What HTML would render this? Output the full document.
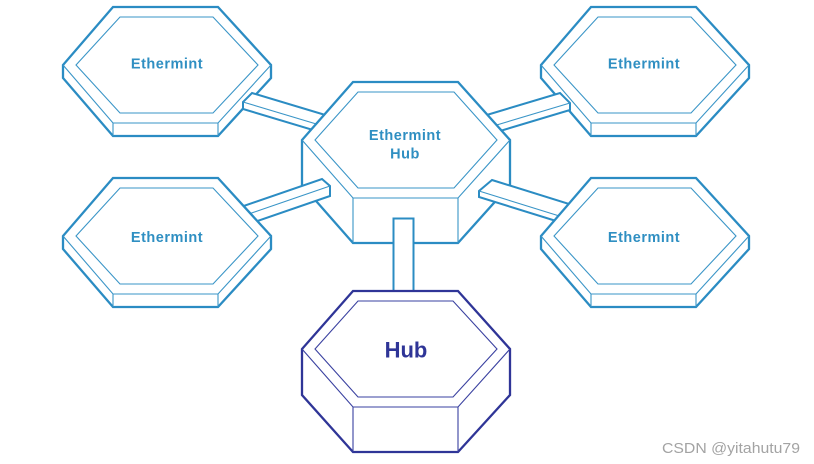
<!DOCTYPE html>
<html>
<head>
<meta charset="utf-8">
<style>
  html,body{margin:0;padding:0;background:#fff;}
  body{width:814px;height:464px;overflow:hidden;}
  svg{display:block;}
  .o{fill:#fff;stroke:#2b8cc3;stroke-width:2.3;stroke-linejoin:miter;}
  .t{fill:none;stroke:#3a95c7;stroke-width:1.1;}
  .ob{fill:#fff;stroke:#2f3597;stroke-width:2.3;}
  .tb{fill:none;stroke:#3a41a0;stroke-width:1.1;}
  .lbl{font-family:"Liberation Sans",sans-serif;font-weight:bold;fill:#2f8fc2;text-anchor:middle;}
</style>
</head>
<body>
<svg width="814" height="464" viewBox="0 0 814 464" xmlns="http://www.w3.org/2000/svg">
  <defs>
    <g id="smallhex">
      <polygon class="o" points="113,7 218,7 271,65 271,78 218,136 113,136 63,78 63,65"/>
      <polyline class="t" points="271,65 218,123 113,123 63,65"/>
      <line class="t" x1="113" y1="123" x2="113" y2="136"/>
      <line class="t" x1="218" y1="123" x2="218" y2="136"/>
      <polygon class="t" points="120,17 213,17 258,65 213,113 120,113 76,65"/>
    </g>
  </defs>

  <!-- top small hexes -->
  <use href="#smallhex" x="0" y="0"/>
  <use href="#smallhex" x="478" y="0"/>

  <!-- top-left bar -->
  <polygon class="o" style="stroke-width:2" points="252,93 332,117 323,126 323,133 243,109 243,102"/>
  <line class="t" x1="243" y1="102" x2="323" y2="126"/>
  <!-- top-right bar -->
  <polygon class="o" style="stroke-width:2" points="560,93 570,103 570,110 490,134 490,127 480,117"/>
  <line class="t" x1="570" y1="103" x2="490" y2="127"/>

  <!-- center hex -->
  <polygon class="o" points="353,82 458,82 510,140 510,185 458,243 353,243 302,185 302,140"/>
  <polyline class="t" points="510,140 458,198 353,198 302,140"/>
  <line class="t" x1="353" y1="198" x2="353" y2="243"/>
  <line class="t" x1="458" y1="198" x2="458" y2="243"/>
  <polygon class="t" points="358,92 454,92 497,140 454,188 358,188 315,140"/>

  <!-- bottom-left bar -->
  <polygon class="o" style="stroke-width:2" points="322,179 330,186 330,196 240,227 240,217 232,210"/>
  <line class="t" x1="330" y1="186" x2="240" y2="217"/>
  <!-- bottom-right bar -->
  <polygon class="o" style="stroke-width:2" points="492,180 582,208 569,219 569,225 479,197 479,191"/>
  <line class="t" x1="479" y1="191" x2="569" y2="219"/>

  <!-- bottom small hexes -->
  <use href="#smallhex" x="0" y="171"/>
  <use href="#smallhex" x="478" y="171"/>

  <!-- vertical connector -->
  <rect x="393.5" y="218.5" width="20" height="74" fill="#fff" stroke="#2b8cc3" stroke-width="2"/>

  <!-- hub -->
  <polygon class="ob" points="353,291 458,291 510,349 510,395 458,452 353,452 302,395 302,349"/>
  <polyline class="tb" points="510,349 458,407 353,407 302,349"/>
  <line class="tb" x1="353" y1="407" x2="353" y2="452"/>
  <line class="tb" x1="458" y1="407" x2="458" y2="452"/>
  <polygon class="tb" points="358,301 453,301 497,349 453,397 358,397 315,349"/>

  <!-- labels -->
  <text class="lbl" x="167" y="68.5" font-size="14.5" letter-spacing="0.5">Ethermint</text>
  <text class="lbl" x="644" y="68.5" font-size="14.5" letter-spacing="0.5">Ethermint</text>
  <text class="lbl" x="167" y="242" font-size="14.5" letter-spacing="0.5">Ethermint</text>
  <text class="lbl" x="644" y="242" font-size="14.5" letter-spacing="0.5">Ethermint</text>
  <text class="lbl" x="405" y="140" font-size="14.5" letter-spacing="0.5">Ethermint</text>
  <text class="lbl" x="405" y="158.5" font-size="14.5" letter-spacing="0.5">Hub</text>
  <text x="406" y="357.5" font-family="Liberation Sans, sans-serif" font-weight="bold" font-size="22" fill="#2f3597" text-anchor="middle">Hub</text>

  <!-- watermark -->
  <text x="662" y="453" font-family="Liberation Sans, sans-serif" font-size="15" fill="#a3a3a3" textLength="138" lengthAdjust="spacingAndGlyphs">CSDN @yitahutu79</text>
</svg>
</body>
</html>
